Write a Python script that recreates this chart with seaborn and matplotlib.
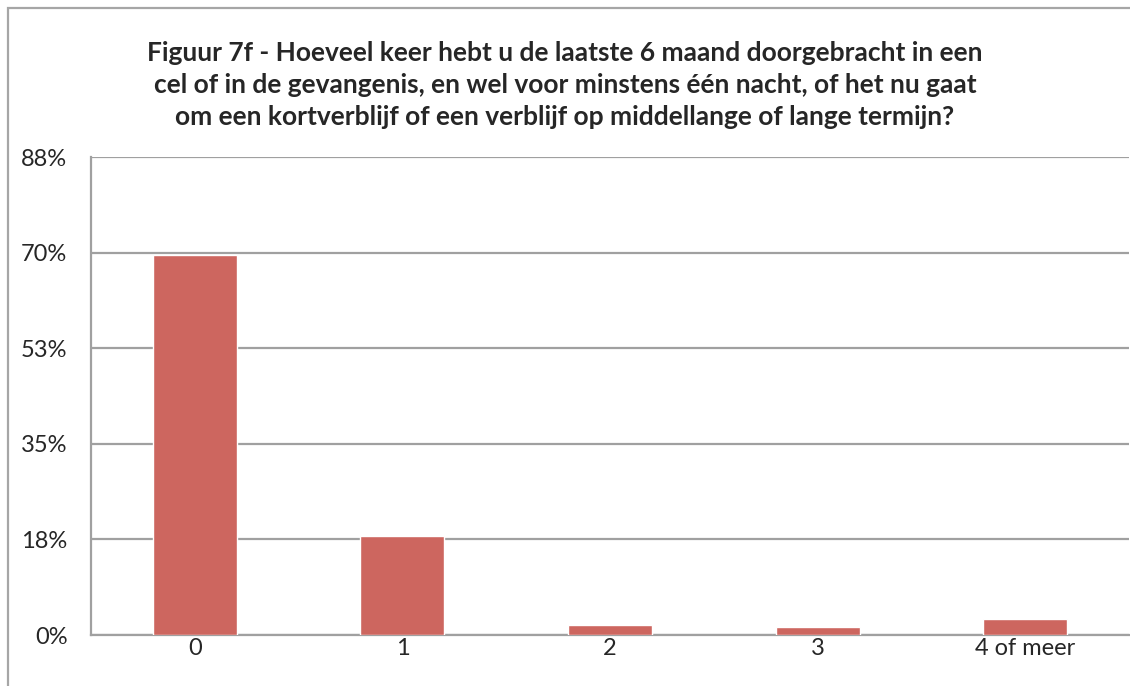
import matplotlib
matplotlib.use("Agg")
import matplotlib.pyplot as plt
import seaborn as sns
import pandas as pd
from matplotlib.patches import Rectangle

# data
categories = ["0", "1", "2", "3", "4 of meer"]
percentages = [69.5, 18.2, 1.8, 1.5, 2.9]
ytick_pos = [0, 17.5, 35, 52.5, 70, 87.5]
ytick_labels = ["0%", "18%", "35%", "53%", "70%", "88%"]
title = ("Figuur 7f - Hoeveel keer hebt u de laatste 6 maand doorgebracht in een\n"
         "cel of in de gevangenis, en wel voor minstens één nacht, of het nu gaat\n"
         "om een kortverblijf of een verblijf op middellange of lange termijn?")

sns.set_style("white")
plt.rcParams['font.family'] = ['Lato', 'DejaVu Sans']

df = pd.DataFrame({"cat": categories, "pct": percentages})

W, H = 1130, 686
fig = plt.figure(figsize=(W / 100, H / 100), dpi=100)
ax = fig.add_axes([91 / W, (H - 635) / H, (1129 - 91) / W, (635 - 157) / H])

grey = "#a0a0a0"
sns.barplot(data=df, x="cat", y="pct", color="#cd665f", saturation=1,
            width=0.405, ax=ax, zorder=3)

ax.set_xlim(-0.5, len(categories) - 0.5)
ax.set_ylim(0, 87.5)
ax.set_yticks(ytick_pos)
ax.set_yticklabels(ytick_labels, fontsize=17)
ax.set_xlabel("")
ax.set_ylabel("")
ax.tick_params(axis="x", which="major", length=0, labelsize=17, pad=2)
ax.set_xticks([i - 0.5 for i in range(len(categories) + 1)], minor=True)
ax.tick_params(axis="x", which="minor", length=6, width=1.6, color=grey, direction="out")
ax.tick_params(axis="y", length=6, width=1.6, color=grey, direction="out", pad=11)
ax.yaxis.grid(True, color=grey, linewidth=1.6, zorder=0)
ax.set_axisbelow(True)
for s in ["top", "right"]:
    ax.spines[s].set_visible(False)
for s in ["left", "bottom"]:
    ax.spines[s].set_color(grey)
    ax.spines[s].set_linewidth(1.6)

fig.text(0.5, (H - 85) / H, title, ha="center", va="center", fontsize=19,
         fontweight="bold", linespacing=1.42)

# outer chart border, cropped on the right and bottom
fig.patches.append(Rectangle((8 / W, -0.1), 1.2, 1.1 - 8 / H, transform=fig.transFigure,
                             fill=False, edgecolor="#a6a6a6", linewidth=1.6))

fig.savefig("out.png", dpi=100)
